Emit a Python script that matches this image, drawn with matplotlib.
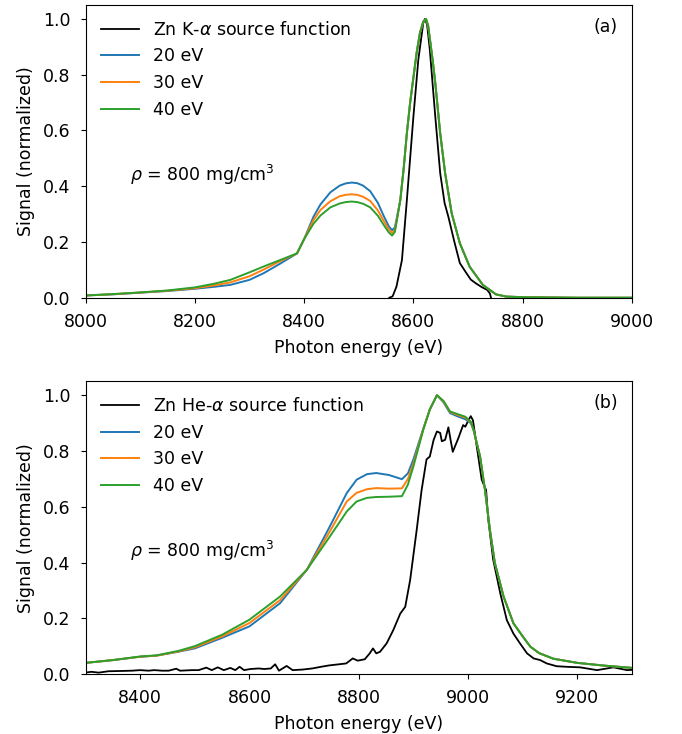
import numpy as np
import matplotlib
matplotlib.use('Agg')
from matplotlib import pyplot as plt

plt.rcParams['font.size'] = 12.5
plt.rcParams['xtick.major.pad'] = 7.5
plt.rcParams['ytick.major.pad'] = 7.5
plt.rcParams['axes.labelpad'] = 5.5

# ---- panel (a): Zn K-alpha ----
# source function
ka_src_e = [8556, 8562, 8569, 8579, 8588, 8600, 8609, 8618, 8621, 8625, 8630, 8640, 8649, 8657,
            8664, 8675, 8685, 8697, 8705, 8714, 8725, 8735, 8740, 8742]
ka_src_v = [0.0, 0.005, 0.04, 0.135, 0.35, 0.65, 0.854, 0.985, 1.0, 0.98, 0.89, 0.65, 0.447, 0.34,
            0.29, 0.2, 0.124, 0.088, 0.065, 0.052, 0.038, 0.028, 0.015, 0.0]

# left part of the spectra (differs by temperature)
ka_left_e = [8000, 8050, 8100, 8150, 8200, 8235, 8265, 8300, 8326, 8356, 8387, 8400, 8417, 8430,
             8448, 8465, 8476, 8487, 8497, 8508, 8521, 8535, 8545, 8555, 8561, 8566, 8570]
ka_20 = [0.008, 0.012, 0.018, 0.024, 0.032, 0.039, 0.046, 0.064, 0.088, 0.122, 0.159, 0.21, 0.29,
         0.335, 0.378, 0.402, 0.41, 0.413, 0.411, 0.402, 0.382, 0.34, 0.296, 0.256, 0.242, 0.252, 0.29]
ka_30 = [0.008, 0.0125, 0.0185, 0.025, 0.034, 0.044, 0.055, 0.077, 0.101, 0.131, 0.159, 0.21, 0.278,
         0.315, 0.346, 0.364, 0.369, 0.371, 0.369, 0.362, 0.347, 0.313, 0.278, 0.245, 0.232, 0.242, 0.285]
ka_40 = [0.008, 0.013, 0.019, 0.026, 0.037, 0.05, 0.064, 0.091, 0.112, 0.135, 0.159, 0.21, 0.265,
         0.295, 0.324, 0.338, 0.343, 0.345, 0.343, 0.337, 0.324, 0.294, 0.263, 0.234, 0.223, 0.236, 0.28]
# main peak, common to all temperatures
ka_peak_e = [8576, 8582, 8588, 8594, 8600, 8606, 8612, 8618, 8623, 8627, 8630, 8635, 8640, 8649,
             8658, 8670, 8685, 8703, 8727, 8751, 8770, 8800, 8850, 8900, 9000]
ka_peak_v = [0.35, 0.46, 0.59, 0.70, 0.79, 0.88, 0.95, 0.99, 1.0, 0.975, 0.93, 0.855, 0.77, 0.59,
             0.447, 0.303, 0.195, 0.111, 0.046, 0.012, 0.004, 0.002, 0.001, 0.0, 0.0]

# ---- panel (b): Zn He-alpha ----
hea_src_e = [8299, 8311, 8324, 8342, 8366, 8385, 8400, 8415, 8426, 8440, 8452, 8466, 8473, 8495,
             8507, 8521, 8531, 8542, 8553, 8565, 8574, 8582, 8590, 8602, 8617, 8627, 8639, 8647,
             8654, 8668, 8679, 8697, 8715, 8731, 8746, 8764, 8777, 8789, 8798, 8811, 8820, 8826,
             8832, 8839, 8851, 8863, 8876, 8885, 8894, 8906, 8915, 8924, 8930, 8937, 8943, 8949,
             8952, 8958, 8964, 8968, 8972, 8982, 8991, 8995, 9001, 9005, 9009, 9016, 9025, 9033,
             9037, 9046, 9059, 9071, 9083, 9095, 9108, 9120, 9132, 9144, 9162, 9180, 9205, 9236,
             9266, 9291, 9300]
hea_src_v = [0.005, 0.008, 0.005, 0.01, 0.011, 0.012, 0.014, 0.012, 0.014, 0.012, 0.012, 0.019, 0.012,
             0.014, 0.014, 0.023, 0.014, 0.024, 0.014, 0.022, 0.014, 0.026, 0.014, 0.018, 0.02,
             0.018, 0.02, 0.035, 0.012, 0.029, 0.014, 0.016, 0.02, 0.026, 0.031, 0.035, 0.038,
             0.056, 0.048, 0.053, 0.074, 0.092, 0.074, 0.08, 0.11, 0.157, 0.217, 0.241, 0.337,
             0.517, 0.66, 0.77, 0.78, 0.84, 0.87, 0.865, 0.835, 0.84, 0.885, 0.84, 0.797, 0.845,
             0.893, 0.887, 0.912, 0.925, 0.91, 0.815, 0.697, 0.66, 0.553, 0.41, 0.289, 0.193, 0.145,
             0.11, 0.074, 0.056, 0.05, 0.038, 0.028, 0.026, 0.024, 0.014, 0.024, 0.014, 0.015]

hea_left_e = [8300, 8350, 8400, 8430, 8470, 8500, 8550, 8600, 8656, 8705, 8747, 8778, 8796, 8815,
              8832, 8855, 8879, 8890, 8900, 8918, 8930, 8943, 8955, 8967, 8980, 8995, 9005]
hea_20 = [0.04, 0.05, 0.062, 0.066, 0.08, 0.092, 0.13, 0.171, 0.254, 0.374, 0.529, 0.649, 0.697,
          0.717, 0.721, 0.714, 0.699, 0.72, 0.77, 0.88, 0.95, 1.0, 0.975, 0.936, 0.925, 0.914, 0.9]
hea_30 = [0.04, 0.05, 0.062, 0.066, 0.081, 0.096, 0.135, 0.183, 0.265, 0.374, 0.511, 0.619, 0.65,
          0.663, 0.667, 0.665, 0.666, 0.7, 0.755, 0.878, 0.949, 1.0, 0.978, 0.94, 0.93, 0.92, 0.903]
hea_40 = [0.04, 0.05, 0.063, 0.067, 0.083, 0.10, 0.141, 0.195, 0.278, 0.374, 0.493, 0.583, 0.619,
          0.632, 0.635, 0.636, 0.638, 0.68, 0.745, 0.876, 0.948, 1.0, 0.98, 0.942, 0.933, 0.923, 0.905]
# falling edge, common to all temperatures
hea_tail_e = [9010, 9022, 9031, 9040, 9049, 9065, 9083, 9100, 9114, 9130, 9156, 9200, 9250, 9300]
hea_tail_v = [0.876, 0.78, 0.66, 0.517, 0.398, 0.278, 0.182, 0.135, 0.098, 0.075, 0.055, 0.04, 0.03, 0.022]

temps = ['20 eV', '30 eV', '40 eV']
colors = ['tab:blue', 'tab:orange', 'tab:green']


def drawPanel(ax, src_e, src_v, src_label, left_e, series, shared_e, shared_v, xlim, xticks, tag):
    ax.plot(src_e, src_v, color='black', linewidth=1.3, label=src_label)
    for name, vals, col in zip(temps, series, colors):
        e = np.concatenate([left_e, shared_e])
        v = np.concatenate([vals, shared_v])
        ax.plot(e, v, color=col, linewidth=1.4, label=name)
    ax.set_xlim(xlim)
    ax.set_ylim(0, 1.05)
    ax.set_xticks(xticks)
    ax.set_yticks([0.0, 0.2, 0.4, 0.6, 0.8, 1.0])
    ax.set_xlabel('Photon energy (eV)')
    ax.set_ylabel('Signal (normalized)')
    ax.legend(loc='upper left', frameon=False, handlelength=2.2)
    ax.text(0.974, 0.925, tag, transform=ax.transAxes, ha='right', va='center')
    ax.text(0.082, 0.42, r'$\rho$ = 800 mg/cm$^3$', transform=ax.transAxes, ha='left', va='center')


fig = plt.figure(figsize=(6.82, 7.34), dpi=100)
ax1 = fig.add_axes([0.1254, 0.5944, 0.8013, 0.3988])
ax2 = fig.add_axes([0.1254, 0.0817, 0.8013, 0.3988])

drawPanel(ax1, ka_src_e, ka_src_v, r'Zn K-$\alpha$ source function', ka_left_e,
          [ka_20, ka_30, ka_40], ka_peak_e, ka_peak_v, (8000, 9000),
          [8000, 8200, 8400, 8600, 8800, 9000], '(a)')
drawPanel(ax2, hea_src_e, hea_src_v, r'Zn He-$\alpha$ source function', hea_left_e,
          [hea_20, hea_30, hea_40], hea_tail_e, hea_tail_v, (8300, 9300),
          [8400, 8600, 8800, 9000, 9200], '(b)')

plt.savefig('out.png', dpi=100)
